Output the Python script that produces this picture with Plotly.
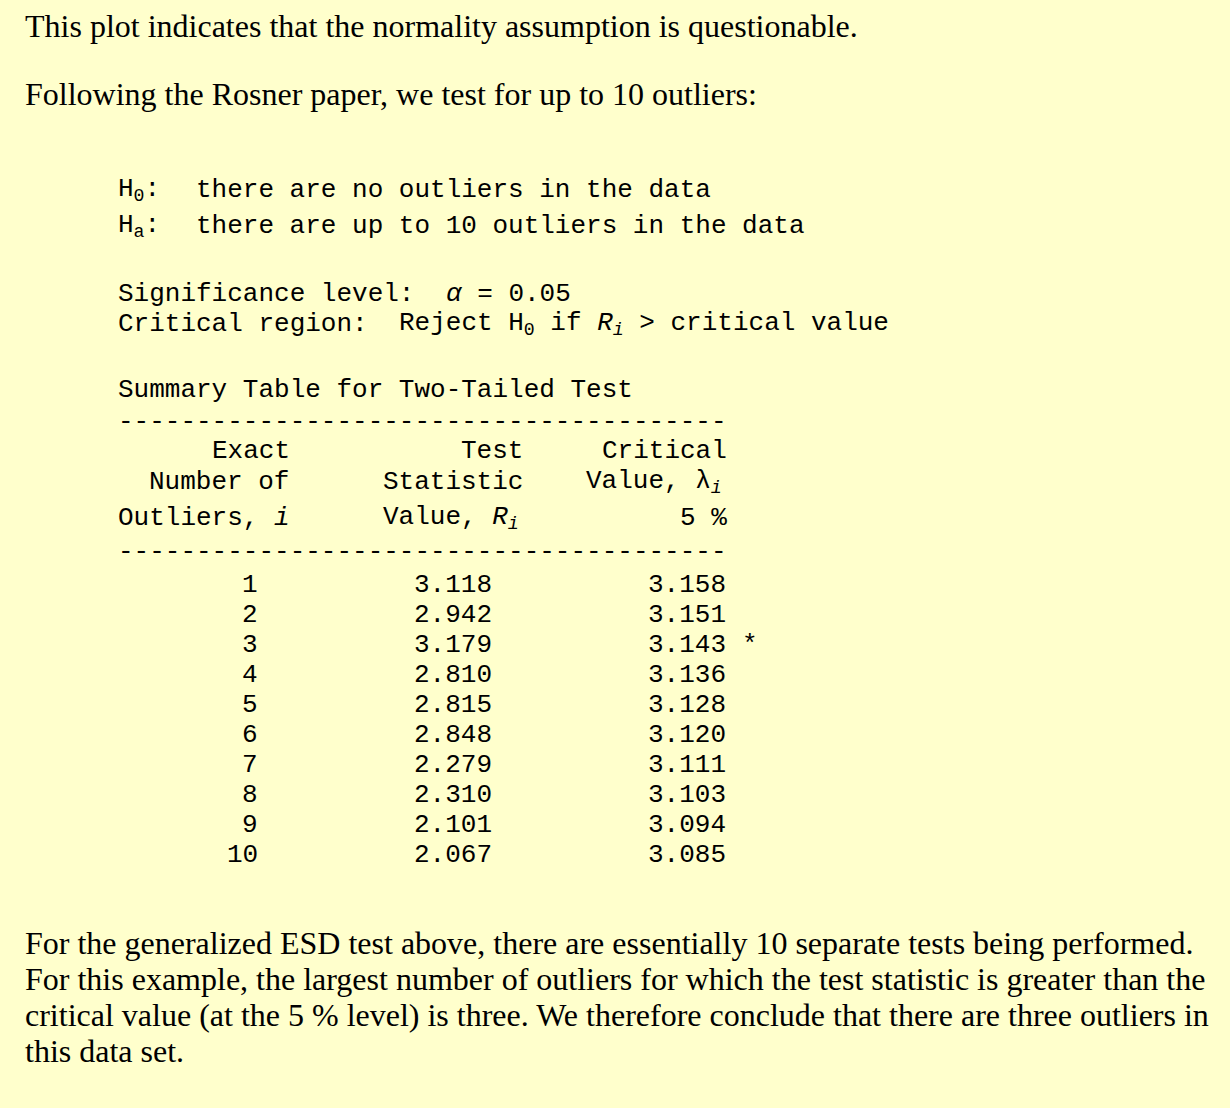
import plotly.graph_objects as go

# table data
n_outliers = [1, 2, 3, 4, 5, 6, 7, 8, 9, 10]
test_stat = ["3.118", "2.942", "3.179", "2.810", "2.815", "2.848", "2.279", "2.310", "2.101", "2.067"]
crit_val = ["3.158", "3.151", "3.143", "3.136", "3.128", "3.120", "3.111", "3.103", "3.094", "3.085"]
flagged = [3]

intro_lines = [
    "This plot indicates that the normality assumption is questionable.",
    "Following the Rosner paper, we test for up to 10 outliers:",
]
outro_lines = [
    "For the generalized ESD test above, there are essentially 10 separate tests being performed.",
    "For this example, the largest number of outliers for which the test statistic is greater than the",
    "critical value (at the 5 % level) is three. We therefore conclude that there are three outliers in",
    "this data set.",
]

BG = "#FFFFCC"
SERIF = "Liberation Serif"
MONO = "Liberation Mono"
CW = 15.6      # monospace char width in px
X0 = 116       # left edge of the monospace block


def col(c):
    return X0 + c * CW


fig = go.Figure()
ann = []


def serif(text, y):
    ann.append(dict(x=23, y=y, text=text, xanchor="left", yanchor="middle",
                    showarrow=False, font=dict(family=SERIF, size=32, color="black")))


def mono(text, x, y, anchor="left"):
    ann.append(dict(x=x, y=y, text=text, xanchor=anchor, yanchor="middle",
                    showarrow=False, font=dict(family=MONO, size=26, color="black")))


serif(intro_lines[0], 26)
serif(intro_lines[1], 94)

mono("H<sub>0</sub>:", col(0), 190)
mono("there are no outliers in the data", col(5), 190)
mono("H<sub>a</sub>:", col(0), 226)
mono("there are up to 10 outliers in the data", col(5), 226)

mono("Significance level:", col(0), 294)
mono("<i>α</i> = 0.05", col(21), 294)
mono("Critical region:", col(0), 324)
mono("Reject H<sub>0</sub> if <i>R</i><sub><i>i</i></sub> &gt; critical value", col(18), 324)

mono("Summary Table for Two-Tailed Test", col(0), 390)
mono("-" * 39, col(0), 422)
mono("Exact", col(6), 451)
mono("Number of", col(2), 482)
mono("Outliers, <i>i</i>", col(0), 518)
mono("Test", col(22), 451)
mono("Statistic", col(17), 482)
mono("Value, <i>R</i><sub><i>i</i></sub>", col(17), 518)
mono("Critical", col(31), 451)
mono("Value, λ<sub><i>i</i></sub>", col(30), 482)
mono("5 %", col(36), 518)
mono("-" * 39, col(0), 552)

for k, (n, r, c) in enumerate(zip(n_outliers, test_stat, crit_val)):
    y = 585 + 30 * k
    mono(str(n), col(9) + 4, y, "right")
    mono(r, col(24) + 4, y, "right")
    mono(c, col(39) + 4, y, "right")
    if n in flagged:
        mono("*", col(40), y)

for k, line in enumerate(outro_lines):
    serif(line, 943 + 36 * k)

fig.update_layout(
    width=1230, height=1108,
    margin=dict(l=0, r=0, t=0, b=0),
    paper_bgcolor=BG, plot_bgcolor=BG,
    xaxis=dict(range=[0, 1230], visible=False, fixedrange=True),
    yaxis=dict(range=[1108, 0], visible=False, fixedrange=True),
    annotations=ann,
    showlegend=False,
)

fig.write_html(
    "out.html",
    config={"displayModeBar": False},
    post_script="document.body.style.margin='0';document.body.style.background='#FFFFCC';",
)
